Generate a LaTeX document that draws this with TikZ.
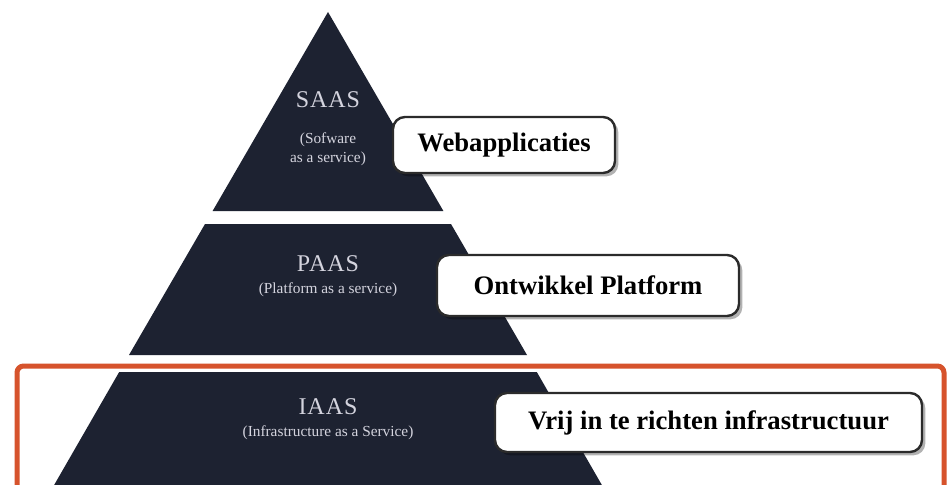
\documentclass[tikz,border=0pt]{standalone}
\usepackage{fontspec}
\setmainfont{Liberation Serif}
\usetikzlibrary{shadows}
\definecolor{pyr}{HTML}{1D2231}
\definecolor{lbl}{HTML}{D4D4DE}
\definecolor{framec}{HTML}{D6532C}
\definecolor{boxline}{HTML}{2B2B2B}
\begin{document}
\begin{tikzpicture}[x=0.75pt,y=-0.75pt,
  layer/.style={fill=pyr, draw=none},
  ttl/.style={text=lbl, font=\fontsize{18}{20}\selectfont\addfontfeatures{LetterSpace=4}, inner sep=0pt},
  sub/.style={text=lbl, font=\fontsize{11.5}{14.25}\selectfont, align=center, inner sep=0pt},
  tag/.style={draw=boxline, line width=1.8pt, rounded corners=9pt, fill=white,
    font=\bfseries\fontsize{20}{24}\selectfont, text=black, inner sep=0pt,
    drop shadow={shadow xshift=2.5pt, shadow yshift=-2.5pt, fill=black, opacity=0.3}}
]
\useasboundingbox (0,0) rectangle (947,485);
\clip (0,0) rectangle (947,485);
\fill[white] (0,0) rectangle (947,485);
% highlight frame
\draw[framec, line width=3.75pt, rounded corners=5pt] (17,366) rectangle (944,540);
% pyramid layers
\fill[layer] (328,12) -- (443.4,211) -- (212.6,211) -- cycle;
\fill[layer] (205,224) -- (451,224) -- (527,355) -- (129,355) -- cycle;
\fill[layer] (119.2,372) -- (536.8,372) -- (610.5,500) -- (45.5,500) -- cycle;
% pyramid labels
\node[ttl] (saas) at (328,100) {SAAS};
\node[sub] (saassub) at (328,149.5) {(Sofware\\as a service)};
\node[ttl] (paas) at (328,264) {PAAS};
\node[sub] (paassub) at (328,290) {(Platform as a service)};
\node[ttl] (iaas) at (328,407) {IAAS};
\node[sub] (iaassub) at (328,433) {(Infrastructure as a Service)};
% tags
\node[tag, minimum width=166.5pt, minimum height=42pt] (web) at (504,145) {Webapplicaties};
\node[tag, minimum width=226.5pt, minimum height=45.75pt] (ont) at (588,285.5) {Ontwikkel Platform};
\node[tag, minimum width=320.25pt, minimum height=44.25pt] (vrij) at (708.5,422.5) {Vrij in te richten infrastructuur};
\end{tikzpicture}
\end{document}
